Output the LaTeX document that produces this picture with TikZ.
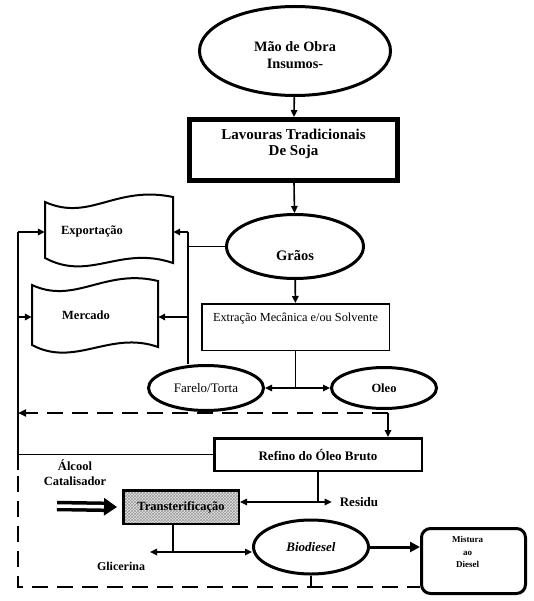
\documentclass[tikz,border=0pt]{standalone}
\usepackage{fontspec}
\setmainfont{Liberation Serif}
\usetikzlibrary{arrows.meta,shapes.geometric,patterns,calc}
\begin{document}
\begin{tikzpicture}[x=1pt,y=1pt,
  every node/.style={font=\bfseries\fontsize{12.5}{15}\selectfont, align=center, inner sep=0pt},
  ell/.style={ellipse, draw, line width=3pt},
  conn/.style={line width=1.6pt},
  tipA/.style={-{Triangle[length=7pt,width=6.5pt]}},
  arr/.style={conn, tipA},
  darr/.style={conn, {Triangle[length=7pt,width=6.5pt]}-{Triangle[length=7pt,width=6.5pt]}},
  dashline/.style={line width=2.5pt, dash pattern=on 16pt off 9pt},
  wave/.style={draw, line width=2pt},
  docnode/.style={rectangle, minimum width=128pt, minimum height=60pt}
]
\useasboundingbox (0,0) rectangle (533,-601);

% nodes
\node[ell, minimum width=191pt, minimum height=89pt,
  label={[yshift=-4pt, font=\bfseries\fontsize{14.3}{16.5}\selectfont]center:Mão de Obra\\Insumos-}] (mao) at (295,-51) {};
\node[draw, line width=5pt, minimum width=208pt, minimum height=61pt, font=\bfseries\fontsize{15}{16}\selectfont] (lav) at (293.5,-150) {Lavouras Tradicionais\\De Soja\\\mbox{}};
\node[ell, minimum width=137pt, minimum height=64pt,
  label={[yshift=-9pt, font=\bfseries\fontsize{14.5}{16}\selectfont]center:Grãos}] (graos) at (295,-246.5) {};
\node[draw, line width=1.5pt, minimum width=187.5pt, minimum height=46.5pt, font=\fontsize{12.3}{20}\selectfont] (ext) at (295.5,-327) {Extração Mecânica e/ou Solvente\\\mbox{}};
\node[ell, minimum width=115pt, minimum height=45pt, font=\fontsize{13}{14}\selectfont] (farelo) at (206,-388) {Farelo/Torta};
\node[ell, minimum width=105pt, minimum height=41pt] (oleo) at (384,-388) {Oleo};
\node[docnode] (exp) at (109,-231) {Exportação\hspace*{34pt}};
\node[docnode, minimum width=126pt] (merc) at (95,-315) {Mercado\hspace*{18pt}};
\node[draw, line width=2.5pt, minimum width=207.5pt, minimum height=32.5pt, font=\bfseries\fontsize{13}{15}\selectfont] (refino) at (318,-454.5) {Refino do Óleo Bruto};
\node (alc) at (75,-473) {Álcool\\Catalisador};
\node[draw, line width=2.5pt, minimum width=115.5pt, minimum height=33.5pt, preaction={fill=gray!20}, pattern=crosshatch, pattern color=gray!80] (trans) at (181,-507) {Transterificação};
\node[inner xsep=8pt, font=\bfseries\fontsize{13}{15}\selectfont] (residu) at (359,-502) {Residu};
\node[font=\bfseries\fontsize{12}{14}\selectfont] (glic) at (121,-566) {Glicerina};
\node[ell, minimum width=115pt, minimum height=54pt, font=\bfseries\itshape\fontsize{13}{15}\selectfont] (bio) at (311,-547) {Biodiesel};
\node[draw, line width=3pt, rounded corners=9pt, minimum width=104pt, minimum height=65pt,
  label={[xshift=-6pt, yshift=9pt, font=\bfseries\fontsize{9}{12.5}\selectfont]center:Mistura\\ao\\Diesel}] (mist) at (473.5,-561) {};

% wavy document shapes
\draw[wave] (45,-202) .. controls (90,-222) and (115,-185) .. (173,-197) -- (173,-263)
  .. controls (120,-245) and (90,-282) .. (45,-258) -- cycle;
\draw[wave] (32,-285) .. controls (75,-305) and (105,-268) .. (158,-281) -- (158,-347)
  .. controls (110,-330) and (75,-368) .. (32,-345) -- cycle;

% connectors
\draw[arr] (mao) -- (lav);
\draw[arr] (lav) -- (graos);
\draw[arr] (graos) -- (ext);

\coordinate (jtop) at (188,-232);
\coordinate (jm) at (188,-317);
\draw[conn] (graos.west) -- (graos.west -| jtop);
\draw[conn] (jtop) -- (jtop |- farelo.north);
\draw[arr] (jtop) -- (jtop -| exp.east);
\draw[arr] (jm) -- (jm -| merc.east);

\draw[conn] (ext.south) -- (ext.south |- farelo.east);
\draw[darr] (farelo.east) -- (oleo.west);

\coordinate (l1) at (18,-232);
\coordinate (l2) at (18,-317);
\coordinate (l3) at (18,-470);
\draw[conn] (l1) -- (l3);
\draw[arr] (l1) -- (l1 -| exp.west);
\draw[arr] (l2) -- (l2 -| merc.west);
\draw[conn] (refino.west -| l1) -- (refino.west);

\coordinate (dr) at (388,-413);
\draw[dashline, -{Triangle[length=8pt,width=7pt]}] (dr) -- (dr -| l1);
\draw[arr] (dr) -- (dr |- refino.north);

\draw[conn] (refino.south) -- (refino.south |- residu.west);
\draw[darr] (trans.east |- residu.west) -- (residu.west);

\coordinate (alcs) at (57,-506);
\draw[line width=3.5pt, double=white, double distance=3.5pt, -{Triangle[length=13pt,width=17pt]}] (alcs) -- ($(trans.west)+(-5,0)$);

\coordinate (gl) at (150,-552);
\draw[conn] ($(trans.south)+(-8,0)$) -- ($(trans.south |- gl)+(-8,0)$);
\draw[darr] (gl) -- (gl -| bio.west);

\draw[line width=3pt, -{Triangle[length=10pt,width=10pt]}] (bio.east) -- (bio.east -| mist.west);

\coordinate (bl) at (18,-587);
\draw[conn] (bio.south) -- (bio.south |- bl);
\draw[dashline] (18,-476) -- (bl) -- (bl -| mist.west);
\end{tikzpicture}
\end{document}
